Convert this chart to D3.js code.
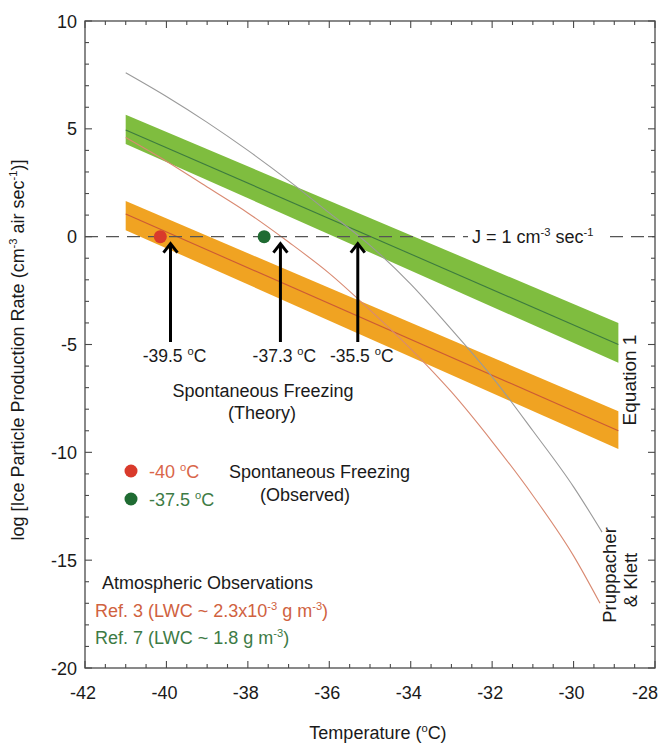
<!DOCTYPE html>
<html><head><meta charset="utf-8">
<script src="https://cdn.jsdelivr.net/npm/d3@7"></script>
<style>
body{margin:0;background:#fff;}
text{font-family:"Liberation Sans",Arial,Helvetica,sans-serif;}
</style></head>
<body><svg id="c" width="663" height="743"></svg>
<script>
// ---- data ----
const xTicks = [-42,-40,-38,-36,-34,-32,-30,-28];
const yTicks = [-20,-15,-10,-5,0,5,10];
const eqT = [-41, -28.9];
const greenCenter = [4.95, -5.0];
const greenUpper = [5.65, -4.0];
const greenLower = [4.3, -5.85];
const orangeCenter = [1.05, -9.0];
const orangeUpper = [1.65, -8.1];
const orangeLower = [0.3, -9.85];
const pkGrayT = [-41,-40,-39,-38,-37,-36,-35,-34,-33,-32,-31,-30,-29.3];
const pkGrayV = [7.6,6.5,5.3,4.0,2.6,1.1,-0.4,-2.2,-4.3,-6.5,-9.0,-11.6,-13.7];
const pkRedT = [-41,-40,-39,-38,-37,-36,-35,-34,-33,-32,-31,-30,-29.35];
const pkRedV = [4.6,3.5,2.3,1.1,-0.25,-1.7,-3.4,-5.2,-7.2,-9.5,-12.0,-14.8,-17.0];
const obsT = [-40.15, -37.6];
const obsV = [0, 0];
const obsColors = ["#d93a2b", "#1f6b32"];
const theoryT = [-39.9, -37.2, -35.3];
const theoryLabels = ["-39.5", "-37.3", "-35.5"];

// ---- layout ----
const svg = d3.select("#c");
const L=85, R=655, T=21, B=668;
const x = d3.scaleLinear().domain([-42,-28]).range([L,R]);
const y = d3.scaleLinear().domain([-20,10]).range([B,T]);
const axisColor = "#4a4a4a";
const ink = "#1a1a1a";
const FS = 18;

function sup(t, parts){
  // parts: array of [text, isSup]
  let up = false;
  parts.forEach(([s, isSup])=>{
    const ts = t.append("tspan").text(s);
    if (isSup && !up){ ts.attr("font-size", FS*0.62).attr("dy", -7); up = true; }
    else if (isSup && up){ ts.attr("font-size", FS*0.62); }
    else if (!isSup && up){ ts.attr("dy", 7); up = false; }
  });
  return t;
}

// bands
function band(up, lo, fill){
  const pts = eqT.map((t,i)=>[t,up[i]]).concat(eqT.map((t,i)=>[t,lo[i]]).reverse());
  svg.append("path").attr("d", d3.line().x(d=>x(d[0])).y(d=>y(d[1]))(pts)+"Z")
    .attr("fill", fill);
}
band(greenUpper, greenLower, "#7fbd3f");
band(orangeUpper, orangeLower, "#f0a322");
const line2 = d3.line().x(d=>x(d[0])).y(d=>y(d[1]));
svg.append("path").attr("d", line2(eqT.map((t,i)=>[t,greenCenter[i]])))
  .attr("stroke","#3d7b3f").attr("stroke-width",1.1).attr("fill","none");
svg.append("path").attr("d", line2(eqT.map((t,i)=>[t,orangeCenter[i]])))
  .attr("stroke","#cc5a35").attr("stroke-width",1.1).attr("fill","none");

// PK curves
const curve = d3.line().x(d=>x(d[0])).y(d=>y(d[1])).curve(d3.curveMonotoneX);
svg.append("path").attr("d", curve(pkGrayT.map((t,i)=>[t,pkGrayV[i]])))
  .attr("stroke","#9a9a9a").attr("stroke-width",1.1).attr("fill","none");
svg.append("path").attr("d", curve(pkRedT.map((t,i)=>[t,pkRedV[i]])))
  .attr("stroke","#d98a72").attr("stroke-width",1.1).attr("fill","none");

// dashed J=1 line
svg.append("line").attr("x1",L).attr("x2",R).attr("y1",y(0)).attr("y2",y(0))
  .attr("stroke","#555").attr("stroke-width",1.3).attr("stroke-dasharray","13,8");
const jx = 472;
svg.append("rect").attr("x",jx-4).attr("y",y(0)-12).attr("width",134).attr("height",24).attr("fill","#fff");
sup(svg.append("text").attr("x",jx).attr("y",y(0)+6).attr("font-size",FS).attr("fill",ink),
  [["J = 1 cm",false],["-3",true],[" sec",false],["-1",true]]);

// observed dots
svg.selectAll("circle.obs").data(obsT).enter().append("circle")
  .attr("cx",d=>x(d)).attr("cy",(d,i)=>y(obsV[i])).attr("r",6.5)
  .attr("fill",(d,i)=>obsColors[i]);

// arrows
theoryT.forEach((t,i)=>{
  const ax = x(t), top = y(0)+7, bot = 342;
  svg.append("line").attr("x1",ax).attr("x2",ax).attr("y1",top+1).attr("y2",bot)
    .attr("stroke","#000").attr("stroke-width",3);
  svg.append("path").attr("d",`M${ax-7},${top+9}L${ax},${top}L${ax+7},${top+9}`)
    .attr("stroke","#000").attr("stroke-width",3).attr("fill","none");
  sup(svg.append("text").attr("x",ax+4).attr("y",362).attr("text-anchor","middle")
    .attr("font-size",17.5).attr("fill",ink), [[theoryLabels[i]+" ",false],["o",true],["C",false]]);
});
svg.append("text").attr("x",263).attr("y",397).attr("text-anchor","middle").attr("font-size",FS).attr("fill",ink).text("Spontaneous Freezing");
svg.append("text").attr("x",262).attr("y",419).attr("text-anchor","middle").attr("font-size",FS).attr("fill",ink).text("(Theory)");

// legend for observed
const legTxt = ["-40 ", "-37.5 "];
const legCol = ["#d9664a", "#3d7b45"];
[0,1].forEach(i=>{
  const cy = 471 + i*28;
  svg.append("circle").attr("cx",131).attr("cy",cy).attr("r",6.5).attr("fill",obsColors[i]);
  sup(svg.append("text").attr("x",149).attr("y",cy+7).attr("font-size",FS).attr("fill",legCol[i]),
    [[legTxt[i],false],["o",true],["C",false]]);
});
svg.append("text").attr("x",229).attr("y",478).attr("font-size",FS).attr("fill",ink).text("Spontaneous Freezing");
svg.append("text").attr("x",305).attr("y",501).attr("text-anchor","middle").attr("font-size",FS).attr("fill",ink).text("(Observed)");

// atmospheric observations
svg.append("text").attr("x",102).attr("y",589).attr("font-size",FS).attr("fill",ink).text("Atmospheric Observations");
sup(svg.append("text").attr("x",95).attr("y",617).attr("font-size",FS).attr("fill","#d0623f"),
  [["Ref. 3 (LWC ~ 2.3x10",false],["-3",true],[" g m",false],["-3",true],[")",false]]);
sup(svg.append("text").attr("x",95).attr("y",644).attr("font-size",FS).attr("fill","#3d7b45"),
  [["Ref. 7 (LWC ~ 1.8 g m",false],["-3",true],[")",false]]);

// right-side rotated labels
svg.append("text").attr("transform","translate(636,380) rotate(-90)").attr("text-anchor","middle")
  .attr("font-size",19).attr("fill",ink).text("Equation 1");
svg.append("text").attr("transform","translate(616,575) rotate(-90)").attr("text-anchor","middle")
  .attr("font-size",18.5).attr("fill",ink).text("Pruppacher");
svg.append("text").attr("transform","translate(637,580) rotate(-90)").attr("text-anchor","middle")
  .attr("font-size",18.5).attr("fill",ink).text("& Klett");

// frame & ticks
const g = svg.append("g");
g.append("rect").attr("x",L).attr("y",T).attr("width",R-L).attr("height",B-T)
  .attr("fill","none").attr("stroke",axisColor).attr("stroke-width",1.3);
const xAll = d3.range(-42,-28+0.001,0.5);
xAll.forEach(v=>{
  const major = Math.abs(v%2)<1e-6;
  const len = major?7:4;
  g.append("line").attr("x1",x(v)).attr("x2",x(v)).attr("y1",B).attr("y2",B-len).attr("stroke",axisColor).attr("stroke-width",1.1);
  g.append("line").attr("x1",x(v)).attr("x2",x(v)).attr("y1",T).attr("y2",T+len).attr("stroke",axisColor).attr("stroke-width",1.1);
});
const yAll = d3.range(-20,10.001,1);
yAll.forEach(v=>{
  const major = Math.abs(v%5)<1e-6;
  const len = major?7:4;
  g.append("line").attr("x1",L).attr("x2",L+len).attr("y1",y(v)).attr("y2",y(v)).attr("stroke",axisColor).attr("stroke-width",1.1);
  g.append("line").attr("x1",R).attr("x2",R-len).attr("y1",y(v)).attr("y2",y(v)).attr("stroke",axisColor).attr("stroke-width",1.1);
});
// tick labels
svg.selectAll("text.xt").data(xTicks).enter().append("text")
  .attr("x",d=>Math.min(x(d)-2, 645)).attr("y",699).attr("text-anchor","middle").attr("font-size",FS).attr("fill",ink).text(d=>d);
svg.selectAll("text.yt").data(yTicks).enter().append("text")
  .attr("x",77).attr("y",d=>y(d)+6.5).attr("text-anchor","end").attr("font-size",FS).attr("fill",ink).text(d=>d);

// axis titles
sup(svg.append("text").attr("x",378).attr("y",739).attr("text-anchor","middle").attr("font-size",FS).attr("fill",ink),
  [["Temperature (",false],["o",true],["C)",false]]);
sup(svg.append("text").attr("transform","translate(24,350) rotate(-90)").attr("text-anchor","middle").attr("font-size",FS).attr("fill",ink),
  [["log [Ice Particle Production Rate (cm",false],["-3",true],[" air sec",false],["-1",true],[")]",false]]);
</script></body></html>
